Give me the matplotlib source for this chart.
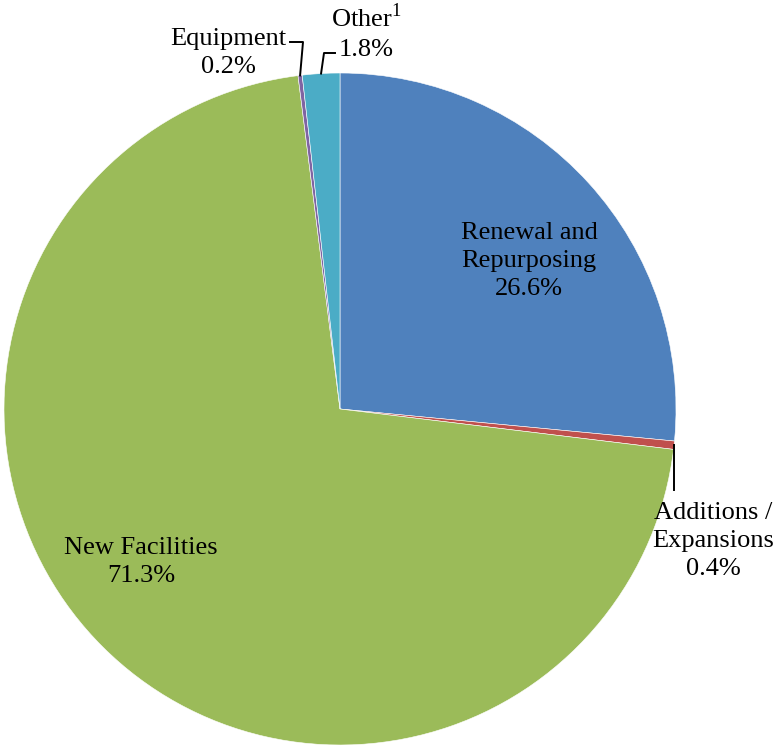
import numpy as np
import matplotlib.pyplot as plt

plt.rcParams['font.family'] = ['Liberation Serif', 'DejaVu Serif']
plt.rcParams['mathtext.fontset'] = 'custom'
plt.rcParams['mathtext.rm'] = 'Liberation Serif'

categories = ['Renewal and\nRepurposing', 'Additions /\nExpansions', 'New Facilities',
              'Equipment', 'Other$^{\\mathrm{1}}$']
shares = [26.6, 0.4, 71.3, 0.2, 1.8]
colors = ['#4F81BD', '#C0504D', '#9BBB59', '#8064A2', '#4BACC6']

W, H = 776, 747
CX, CY, R = 340, 409, 336

fig = plt.figure(figsize=(W / 100, H / 100), dpi=100)
ax = fig.add_axes([(CX - R) / W, (H - CY - R) / H, 2 * R / W, 2 * R / H])

wedges, _ = ax.pie(shares, colors=colors, startangle=90, counterclock=False,
                   wedgeprops=dict(edgecolor='white', linewidth=0.4))
ax.set_xlim(-1, 1)
ax.set_ylim(-1, 1)
ax.set_aspect('equal')
ax.axis('off')


def px(x, y):
    # pixel position in the picture -> data coords of the pie
    return (x - CX) / R, (CY - y) / R


def edge_point(w, r=1.0):
    ang = np.deg2rad((w.theta1 + w.theta2) / 2)
    return r * np.cos(ang), r * np.sin(ang)


label_pos = [(529, 261), (713, 541), (141, 562), (228, 53), (366, 32)]
fs = 19
for cat, val, (lx, ly) in zip(categories, shares, label_pos):
    x, y = px(lx, ly)
    ax.text(x, y, f'{cat}\n{val:.1f}%', ha='center', va='center',
            fontsize=fs, linespacing=1.38, clip_on=False)

# leader lines
lw = 1.4
ex, ey = edge_point(wedges[1])
ax.plot([ex, ex], [ey, px(0, 490)[1]], color='black', lw=lw, clip_on=False)

ex, ey = edge_point(wedges[3])
hx, hy = px(290, 42)
ax.plot([hx, px(303, 0)[0], ex], [hy, hy, ey], color='black', lw=lw, clip_on=False)

ex, ey = edge_point(wedges[4])
hx, hy = px(335, 53)
ax.plot([hx, px(324, 0)[0], ex], [hy, hy, ey], color='black', lw=lw, clip_on=False)

fig.savefig('out.png', dpi=100)
